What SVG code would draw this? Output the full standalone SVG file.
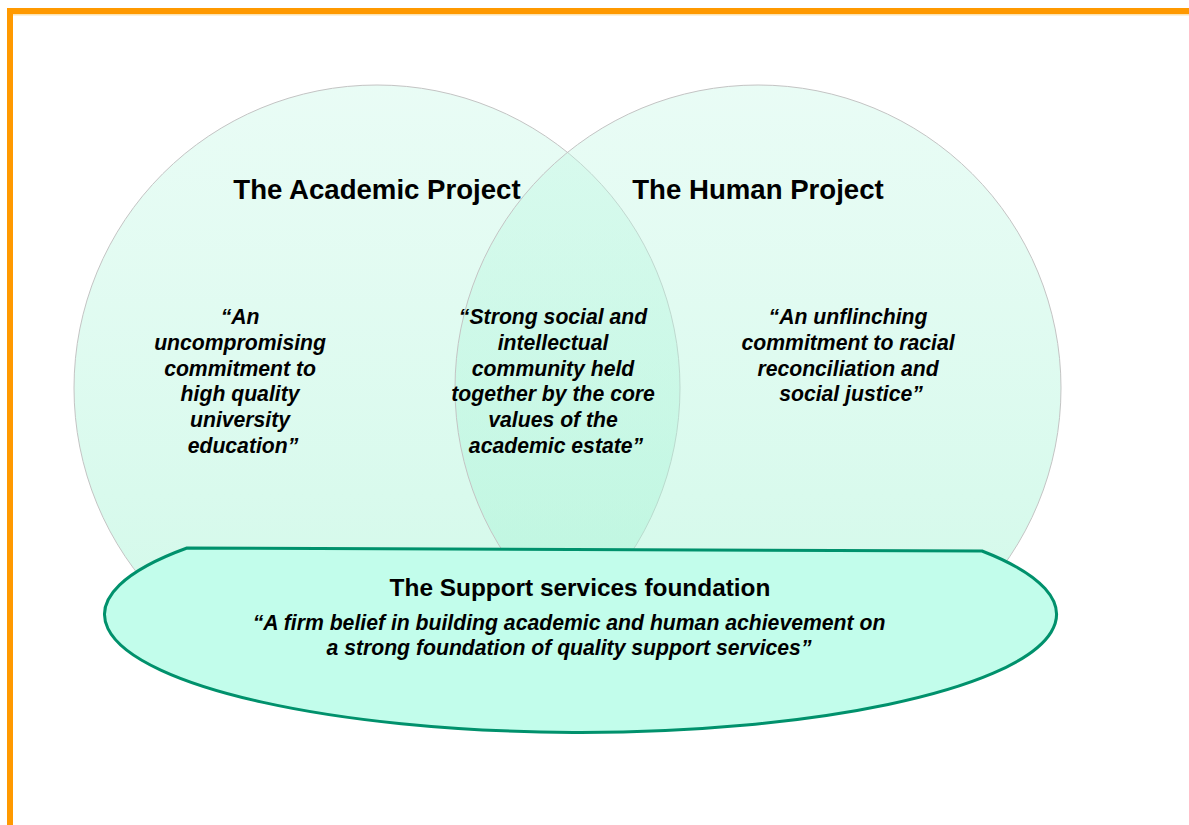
<svg xmlns="http://www.w3.org/2000/svg" width="1189" height="825" viewBox="0 0 1189 825">
  <defs>
    <linearGradient id="circleFill" x1="0" y1="0" x2="0" y2="1">
      <stop offset="0" stop-color="#C2F7E4" stop-opacity="0.36"/>
      <stop offset="1" stop-color="#A4F3D3" stop-opacity="0.52"/>
    </linearGradient>
    <style>
      .frame { fill: #FF9900; }
      .frame-edge { fill: #FBE3B4; }
      .project { fill: url(#circleFill); stroke: #C4C4C4; stroke-width: 1; }
      .foundation { fill: #C2FDEB; stroke: #00916C; stroke-width: 3; stroke-linejoin: round; }
      .title { font-family: "Liberation Sans", Arial, sans-serif; font-weight: bold; fill: #000; text-anchor: middle; }
      .quote { font-family: "Liberation Sans", Arial, sans-serif; font-weight: bold; font-style: italic; font-size: 21.2px; fill: #000; text-anchor: middle; }
    </style>
  </defs>

  <rect width="1189" height="825" fill="#FFFFFF"/>

  <!-- page frame -->
  <g id="frame">
    <rect class="frame-edge" x="13" y="14" width="1176" height="1.5"/>
    <rect class="frame" x="7" y="8" width="1182" height="6"/>
    <rect class="frame" x="7" y="8" width="6" height="817"/>
  </g>

  <!-- project circles -->
  <g id="academic-project">
    <circle class="project" cx="377" cy="388" r="303"/>
  </g>
  <g id="human-project">
    <circle class="project" cx="758" cy="388" r="303"/>
  </g>

  <!-- foundation: ellipse with a flat top edge -->
  <g id="support-foundation">
    <path class="foundation" d="M187,548 L982,551 A476,118 0 1 1 187,548 Z"/>
  </g>

  <g id="connectors"/>

  <!-- labels -->
  <g id="academic-project-text">
    <text class="title" x="377" y="199" font-size="27.6">The Academic Project</text>
    <text class="quote" x="243">
      <tspan x="243" y="324">“An</tspan>
      <tspan x="243" y="349.8">uncompromising</tspan>
      <tspan x="243" y="375.6">commitment to</tspan>
      <tspan x="243" y="401.4">high quality</tspan>
      <tspan x="243" y="427.2">university</tspan>
      <tspan x="243" y="453">education”</tspan>
    </text>
  </g>

  <g id="shared-text">
    <text class="quote" x="556">
      <tspan x="556" y="324">“Strong social and</tspan>
      <tspan x="556" y="349.8">intellectual</tspan>
      <tspan x="556" y="375.6">community held</tspan>
      <tspan x="556" y="401.4">together by the core</tspan>
      <tspan x="556" y="427.2">values of the</tspan>
      <tspan x="556" y="453">academic estate”</tspan>
    </text>
  </g>

  <g id="human-project-text">
    <text class="title" x="758" y="199" font-size="27.6">The Human Project</text>
    <text class="quote" x="851">
      <tspan x="851" y="324">“An unflinching</tspan>
      <tspan x="851" y="349.8">commitment to racial</tspan>
      <tspan x="851" y="375.6">reconciliation and</tspan>
      <tspan x="851" y="401.4">social justice”</tspan>
    </text>
  </g>

  <g id="support-foundation-text">
    <text class="title" x="580" y="596" font-size="24.4">The Support services foundation</text>
    <text class="quote">
      <tspan x="572" y="630">“A firm belief in building academic and human achievement on</tspan>
      <tspan x="569" y="655">a strong foundation of quality support services”</tspan>
    </text>
  </g>
</svg>
